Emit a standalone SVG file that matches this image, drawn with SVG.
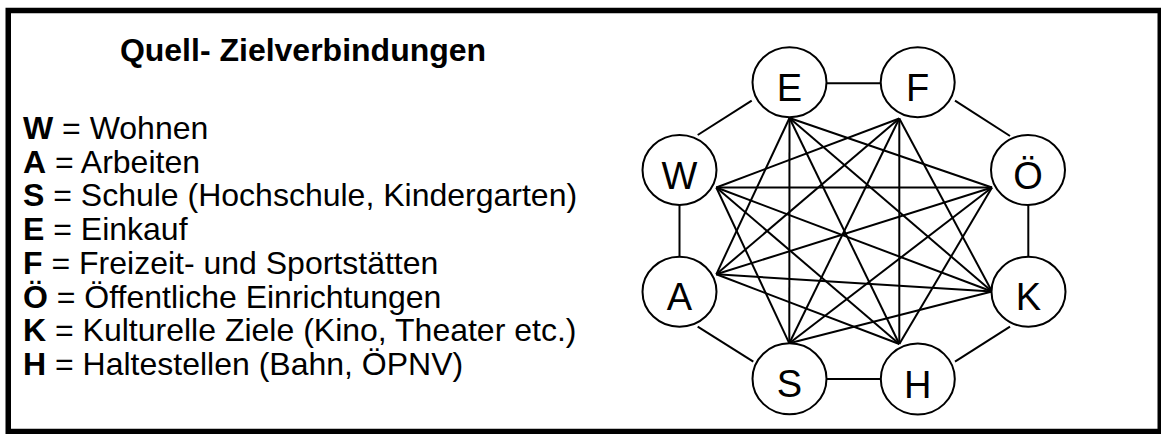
<svg xmlns="http://www.w3.org/2000/svg" width="1161" height="434" viewBox="0 0 1161 434">
<style>
.frame{fill:#fff;stroke:#000;stroke-width:5.5}
.title{font-family:"Liberation Sans",Arial,sans-serif;font-weight:bold;font-size:32px;fill:#000}
.leg{font-family:"Liberation Sans",Arial,sans-serif;font-size:32px;fill:#000}
.leg tspan.k{font-weight:bold}
.node ellipse{fill:#fff;stroke:#000;stroke-width:2}
.node text{font-family:"Liberation Sans",Arial,sans-serif;font-size:38px;fill:#000;text-anchor:middle}
.edges line{stroke:#000;stroke-width:2}
</style>
<rect class="frame" x="8.25" y="10.5" width="1152" height="421"/>
<g id="legend">
<text class="title" x="303" y="61" text-anchor="middle">Quell- Zielverbindungen</text>
<text class="leg" x="23" y="139"><tspan class="k">W</tspan> = Wohnen</text>
<text class="leg" x="23" y="172.7"><tspan class="k">A</tspan> = Arbeiten</text>
<text class="leg" x="23" y="206.4"><tspan class="k">S</tspan> = Schule (Hochschule, Kindergarten)</text>
<text class="leg" x="23" y="240.1"><tspan class="k">E</tspan> = Einkauf</text>
<text class="leg" x="23" y="273.8"><tspan class="k">F</tspan> = Freizeit- und Sportstätten</text>
<text class="leg" x="23" y="307.5"><tspan class="k">Ö</tspan> = Öffentliche Einrichtungen</text>
<text class="leg" x="23" y="341.2"><tspan class="k">K</tspan> = Kulturelle Ziele (Kino, Theater etc.)</text>
<text class="leg" x="23" y="374.9"><tspan class="k">H</tspan> = Haltestellen (Bahn, ÖPNV)</text>
</g>
<g id="connectors" class="edges">
<line x1="697.7" y1="135" x2="751.7" y2="100.7"/>
<line x1="826.7" y1="83.3" x2="880.7" y2="83.3"/>
<line x1="955" y1="100.7" x2="1010" y2="136"/>
<line x1="1028.3" y1="205" x2="1028.3" y2="256.7"/>
<line x1="1010" y1="326.7" x2="955" y2="361.7"/>
<line x1="826.7" y1="379" x2="880.7" y2="379"/>
<line x1="753.3" y1="361.7" x2="697.7" y2="326.7"/>
<line x1="679.5" y1="205" x2="679.5" y2="256.7"/>
<line x1="789.5" y1="118" x2="789.3" y2="343.3"/>
<line x1="789.5" y1="118" x2="899.3" y2="344"/>
<line x1="789.5" y1="118" x2="992" y2="187.5"/>
<line x1="789.5" y1="118" x2="992" y2="291.5"/>
<line x1="789.5" y1="118" x2="716.3" y2="274.3"/>
<line x1="899.3" y1="118.5" x2="899.3" y2="344"/>
<line x1="899.3" y1="118.5" x2="789.3" y2="343.3"/>
<line x1="899.3" y1="118.5" x2="716.3" y2="274.3"/>
<line x1="899.3" y1="118.5" x2="716.3" y2="187.5"/>
<line x1="899.3" y1="118.5" x2="992" y2="291.5"/>
<line x1="716.3" y1="187.5" x2="992" y2="187.5"/>
<line x1="716.3" y1="187.5" x2="992" y2="291.5"/>
<line x1="716.3" y1="187.5" x2="899.3" y2="344"/>
<line x1="716.3" y1="187.5" x2="789.3" y2="343.3"/>
<line x1="716.3" y1="274.3" x2="992" y2="187.5"/>
<line x1="716.3" y1="274.3" x2="992" y2="291.5"/>
<line x1="716.3" y1="274.3" x2="899.3" y2="344"/>
<line x1="789.3" y1="343.3" x2="992" y2="187.5"/>
<line x1="789.3" y1="343.3" x2="992" y2="291.5"/>
<line x1="899.3" y1="344" x2="992" y2="187.5"/>
</g>
<g id="node-E" class="node"><ellipse cx="789.5" cy="82.3" rx="37" ry="35"/><text x="789.5" y="101">E</text></g>
<g id="node-F" class="node"><ellipse cx="917.7" cy="82.3" rx="37" ry="35"/><text x="917.7" y="101">F</text></g>
<g id="node-W" class="node"><ellipse cx="679.5" cy="170" rx="37" ry="35"/><text x="679.5" y="188.5">W</text></g>
<g id="node-Oe" class="node"><ellipse cx="1028" cy="170" rx="37" ry="35"/><text x="1028" y="188.5">Ö</text></g>
<g id="node-A" class="node"><ellipse cx="679.5" cy="291.7" rx="37" ry="35"/><text x="679.5" y="310">A</text></g>
<g id="node-K" class="node"><ellipse cx="1028.5" cy="291.7" rx="37" ry="35"/><text x="1028.5" y="310">K</text></g>
<g id="node-S" class="node"><ellipse cx="789.5" cy="378.8" rx="37" ry="35.5"/><text x="789.5" y="397.3">S</text></g>
<g id="node-H" class="node"><ellipse cx="917.8" cy="379" rx="37" ry="35.5"/><text x="917.8" y="397.5">H</text></g>
</svg>
